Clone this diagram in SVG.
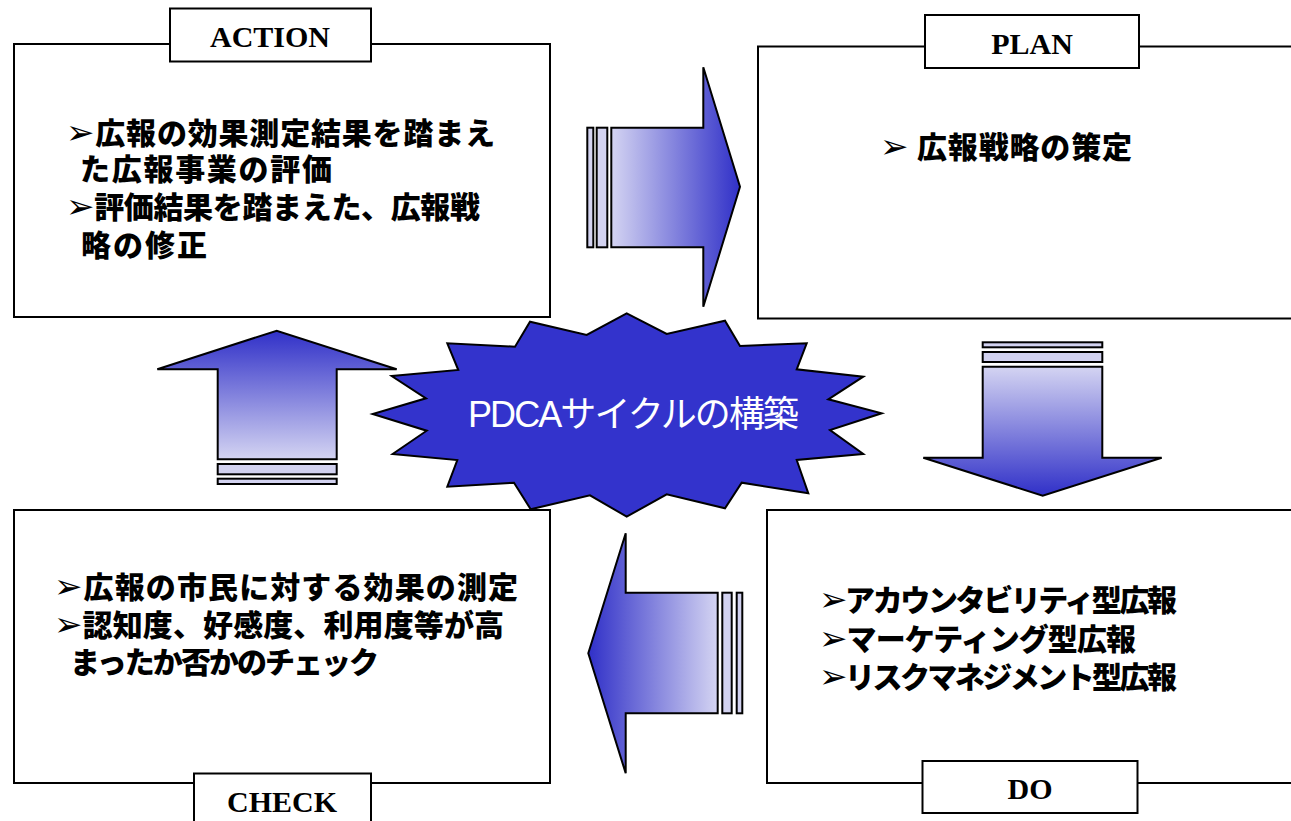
<svg xmlns="http://www.w3.org/2000/svg" width="1291" height="821" viewBox="0 0 1291 821">
<style>
.box{fill:#fff;stroke:#000;stroke-width:2}
.lblbox{fill:#fff;stroke:#000;stroke-width:2}
.lbl{font-family:"Liberation Serif","Times New Roman",serif;font-weight:bold;font-size:30px;text-anchor:middle;fill:#000}
.jp{font-family:"Noto Sans CJK JP","DejaVu Sans",sans-serif;font-weight:900;font-size:30px;fill:#000}
.ar{font-family:"DejaVu Sans",sans-serif;font-weight:bold;font-size:34px}
.arrow{stroke:#000;stroke-width:2;stroke-linejoin:miter}
.stripe{fill:#d2d2f0;stroke:#000;stroke-width:2}
.burst{fill:#3333cc;stroke:#000;stroke-width:2}
.bursttext{font-family:"Liberation Sans","Noto Sans CJK JP",sans-serif;font-size:36px;fill:#fff}
</style>
<defs>
<linearGradient id="gR" x1="0" y1="0" x2="1" y2="0"><stop offset="0" stop-color="#d4d4f2"/><stop offset="1" stop-color="#3030c8"/></linearGradient>
<linearGradient id="gL" x1="1" y1="0" x2="0" y2="0"><stop offset="0" stop-color="#d4d4f2"/><stop offset="1" stop-color="#3030c8"/></linearGradient>
<linearGradient id="gU" x1="0" y1="1" x2="0" y2="0"><stop offset="0" stop-color="#d4d4f2"/><stop offset="1" stop-color="#3030c8"/></linearGradient>
<linearGradient id="gD" x1="0" y1="0" x2="0" y2="1"><stop offset="0" stop-color="#d4d4f2"/><stop offset="1" stop-color="#3030c8"/></linearGradient>
</defs>
<rect x="0" y="0" width="1291" height="821" fill="#fff"/>

<g id="action">
<rect class="box" x="14" y="44" width="536" height="273"/>
<rect class="lblbox" x="170" y="8.5" width="201" height="53"/>
<text class="lbl" x="270" y="47">ACTION</text>
<text class="jp" x="66" y="144" textLength="429" lengthAdjust="spacing"><tspan class="ar">➢</tspan>広報の効果測定結果を踏まえ</text>
<text class="jp" x="80" y="180" textLength="252" lengthAdjust="spacing">た広報事業の評価</text>
<text class="jp" x="66" y="218" textLength="414" lengthAdjust="spacing"><tspan class="ar">➢</tspan>評価結果を踏まえた、広報戦</text>
<text class="jp" x="81" y="256" textLength="126" lengthAdjust="spacing">略の修正</text>
</g>

<g id="plan">
<rect class="box" x="758" y="46.5" width="545" height="272"/>
<rect class="lblbox" x="925" y="15" width="214" height="53"/>
<text class="lbl" x="1032" y="53.5">PLAN</text>
<text class="jp" x="880" y="158" font-size="31" textLength="252" lengthAdjust="spacing"><tspan class="ar">➢</tspan> 広報戦略の策定</text>
</g>

<g id="check">
<rect class="box" x="14" y="510" width="536" height="273"/>
<rect class="lblbox" x="194" y="773.5" width="177" height="60"/>
<text class="lbl" x="282" y="812">CHECK</text>
<text class="jp" x="54" y="598" textLength="464" lengthAdjust="spacing"><tspan class="ar">➢</tspan>広報の市民に対する効果の測定</text>
<text class="jp" x="54" y="636" textLength="450" lengthAdjust="spacing"><tspan class="ar">➢</tspan>認知度、好感度、利用度等が高</text>
<text class="jp" x="70" y="673" textLength="309" lengthAdjust="spacing">まったか否かのチェック</text>
</g>

<g id="do">
<rect class="box" x="767" y="510" width="540" height="273"/>
<rect class="lblbox" x="922.5" y="761" width="215" height="52"/>
<text class="lbl" x="1030" y="798.5">DO</text>
<text class="jp" x="819" y="611" textLength="358" lengthAdjust="spacing"><tspan class="ar">➢</tspan>アカウンタビリティ型広報</text>
<text class="jp" x="819" y="650" textLength="317" lengthAdjust="spacing"><tspan class="ar">➢</tspan>マーケティング型広報</text>
<text class="jp" x="819" y="688" textLength="358" lengthAdjust="spacing"><tspan class="ar">➢</tspan>リスクマネジメント型広報</text>
</g>

<g id="connectors">
<g id="arrow-action-plan">
<rect class="stripe" x="587.3" y="127.7" width="6" height="119.6"/>
<rect class="stripe" x="596.7" y="127.7" width="10.6" height="119.6"/>
<polygon class="arrow" fill="url(#gR)" points="611.3,127.7 703.3,127.7 703.3,67.3 740,186.7 703.3,306.7 703.3,247.3 611.3,247.3"/>
</g>
<g id="arrow-plan-do">
<rect class="stripe" x="982.7" y="342.3" width="119.6" height="5"/>
<rect class="stripe" x="982.7" y="352" width="119.6" height="10"/>
<polygon class="arrow" fill="url(#gD)" points="982.7,366.7 1102.3,366.7 1102.3,457.7 1161.7,457.7 1042.7,495.7 923.3,457.7 982.7,457.7"/>
</g>
<g id="arrow-do-check">
<rect class="stripe" x="722.3" y="592.7" width="9.4" height="120.6"/>
<rect class="stripe" x="736.7" y="592.7" width="5.6" height="120.6"/>
<polygon class="arrow" fill="url(#gL)" points="717.7,592.7 625.7,592.7 625.7,533.3 588.3,653.3 625.7,773.3 625.7,713.3 717.7,713.3"/>
</g>
<g id="arrow-check-action">
<rect class="stripe" x="217.7" y="464" width="119" height="10.3"/>
<rect class="stripe" x="217.7" y="478.7" width="119" height="5.3"/>
<polygon class="arrow" fill="url(#gU)" points="217.7,459.3 217.7,369.3 157.3,369.3 276.7,330.7 396.7,369.3 336.7,369.3 336.7,459.3"/>
</g>
</g>

<g id="center">
<polygon class="burst" points="626.7,313.3 666.7,334 725,320.7 740,346 806.7,343.3 796.7,369.3 863.3,376.7 828.3,399.3 881.7,413.3 830,430 863.3,454 796.7,460 808.3,493.3 741.7,482.7 725,508.3 666.7,494.3 626.7,516.7 590,495.3 530.7,509.3 514,482.7 447.3,486.7 457.3,460 392.7,454 426.7,430.7 372.7,414 426,398.3 391.7,376 458.3,370 447.3,343.3 515,346.7 530,321.7 586.7,335"/>
<text class="bursttext" x="468" y="427" textLength="331" lengthAdjust="spacing">PDCAサイクルの構築</text>
</g>
</svg>
